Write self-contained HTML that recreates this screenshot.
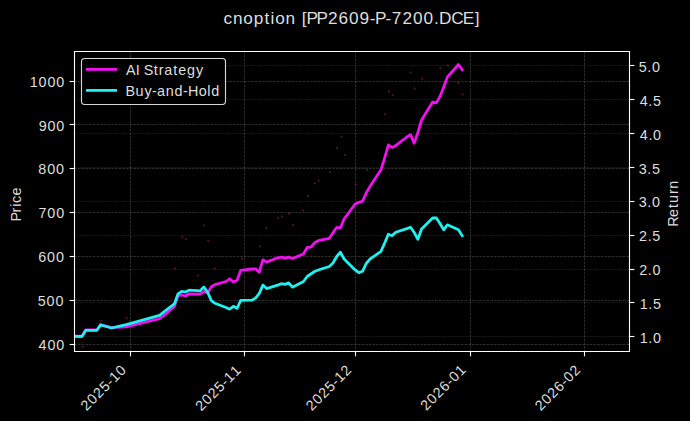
<!DOCTYPE html><html><head><meta charset="utf-8"><style>html,body{margin:0;padding:0;background:#000;width:690px;height:421px;overflow:hidden}svg{display:block}text{font-family:"Liberation Sans",sans-serif;fill:#dedede}</style></head><body>
<svg width="690" height="421" viewBox="0 0 690 421">
<rect width="690" height="421" fill="#000"/>
<line x1="74.5" y1="81.5" x2="629.5" y2="81.5" stroke="#ffffff" stroke-opacity="0.26" stroke-width="0.69" stroke-dasharray="2.57 1.11"/>
<line x1="74.5" y1="124.5" x2="629.5" y2="124.5" stroke="#ffffff" stroke-opacity="0.26" stroke-width="0.69" stroke-dasharray="2.57 1.11"/>
<line x1="74.5" y1="168.5" x2="629.5" y2="168.5" stroke="#ffffff" stroke-opacity="0.26" stroke-width="0.69" stroke-dasharray="2.57 1.11"/>
<line x1="74.5" y1="212.5" x2="629.5" y2="212.5" stroke="#ffffff" stroke-opacity="0.26" stroke-width="0.69" stroke-dasharray="2.57 1.11"/>
<line x1="74.5" y1="256.5" x2="629.5" y2="256.5" stroke="#ffffff" stroke-opacity="0.26" stroke-width="0.69" stroke-dasharray="2.57 1.11"/>
<line x1="74.5" y1="300.5" x2="629.5" y2="300.5" stroke="#ffffff" stroke-opacity="0.26" stroke-width="0.69" stroke-dasharray="2.57 1.11"/>
<line x1="74.5" y1="344.5" x2="629.5" y2="344.5" stroke="#ffffff" stroke-opacity="0.26" stroke-width="0.69" stroke-dasharray="2.57 1.11"/>
<line x1="130.5" y1="51.5" x2="130.5" y2="351.5" stroke="#ffffff" stroke-opacity="0.26" stroke-width="0.69" stroke-dasharray="2.57 1.11"/>
<line x1="244.5" y1="51.5" x2="244.5" y2="351.5" stroke="#ffffff" stroke-opacity="0.26" stroke-width="0.69" stroke-dasharray="2.57 1.11"/>
<line x1="355.5" y1="51.5" x2="355.5" y2="351.5" stroke="#ffffff" stroke-opacity="0.26" stroke-width="0.69" stroke-dasharray="2.57 1.11"/>
<line x1="470.5" y1="51.5" x2="470.5" y2="351.5" stroke="#ffffff" stroke-opacity="0.26" stroke-width="0.69" stroke-dasharray="2.57 1.11"/>
<line x1="584.5" y1="51.5" x2="584.5" y2="351.5" stroke="#ffffff" stroke-opacity="0.26" stroke-width="0.69" stroke-dasharray="2.57 1.11"/>
<line x1="74.5" y1="65.5" x2="629.5" y2="65.5" stroke="#ffffff" stroke-opacity="0.26" stroke-width="0.69" stroke-dasharray="0.69 1.15"/>
<line x1="74.5" y1="99.5" x2="629.5" y2="99.5" stroke="#ffffff" stroke-opacity="0.26" stroke-width="0.69" stroke-dasharray="0.69 1.15"/>
<line x1="74.5" y1="133.5" x2="629.5" y2="133.5" stroke="#ffffff" stroke-opacity="0.26" stroke-width="0.69" stroke-dasharray="0.69 1.15"/>
<line x1="74.5" y1="167.5" x2="629.5" y2="167.5" stroke="#ffffff" stroke-opacity="0.26" stroke-width="0.69" stroke-dasharray="0.69 1.15"/>
<line x1="74.5" y1="201.5" x2="629.5" y2="201.5" stroke="#ffffff" stroke-opacity="0.26" stroke-width="0.69" stroke-dasharray="0.69 1.15"/>
<line x1="74.5" y1="235.5" x2="629.5" y2="235.5" stroke="#ffffff" stroke-opacity="0.26" stroke-width="0.69" stroke-dasharray="0.69 1.15"/>
<line x1="74.5" y1="269.5" x2="629.5" y2="269.5" stroke="#ffffff" stroke-opacity="0.26" stroke-width="0.69" stroke-dasharray="0.69 1.15"/>
<line x1="74.5" y1="302.5" x2="629.5" y2="302.5" stroke="#ffffff" stroke-opacity="0.26" stroke-width="0.69" stroke-dasharray="0.69 1.15"/>
<line x1="74.5" y1="336.5" x2="629.5" y2="336.5" stroke="#ffffff" stroke-opacity="0.26" stroke-width="0.69" stroke-dasharray="0.69 1.15"/>
<circle cx="182.3" cy="237.1" r="1.0" fill="#5a1c24"/>
<circle cx="186" cy="239.1" r="1.0" fill="#5a1c24"/>
<circle cx="203.9" cy="225.4" r="1.0" fill="#5a1c24"/>
<circle cx="208.2" cy="240.7" r="1.0" fill="#5a1c24"/>
<circle cx="175.1" cy="268.5" r="1.0" fill="#5a1c24"/>
<circle cx="197.9" cy="275.6" r="1.0" fill="#5a1c24"/>
<circle cx="215" cy="268.5" r="1.0" fill="#5a1c24"/>
<circle cx="242" cy="258.5" r="1.0" fill="#5a1c24"/>
<circle cx="126.7" cy="318.3" r="1.0" fill="#5a1c24"/>
<circle cx="101" cy="321" r="1.0" fill="#5a1c24"/>
<circle cx="82.5" cy="346.8" r="1.0" fill="#5a1c24"/>
<circle cx="259.8" cy="246.4" r="1.0" fill="#5a1c24"/>
<circle cx="266.4" cy="228.1" r="1.0" fill="#5a1c24"/>
<circle cx="278.1" cy="218.1" r="1.0" fill="#5a1c24"/>
<circle cx="282.1" cy="216.5" r="1.0" fill="#5a1c24"/>
<circle cx="289" cy="213.8" r="1.0" fill="#5a1c24"/>
<circle cx="293" cy="224.8" r="1.0" fill="#5a1c24"/>
<circle cx="303" cy="210.5" r="1.0" fill="#5a1c24"/>
<circle cx="308" cy="195.8" r="1.0" fill="#5a1c24"/>
<circle cx="314.7" cy="183.2" r="1.0" fill="#5a1c24"/>
<circle cx="318.7" cy="180.5" r="1.0" fill="#5a1c24"/>
<circle cx="330" cy="172" r="1.0" fill="#5a1c24"/>
<circle cx="337.1" cy="148" r="1.0" fill="#5a1c24"/>
<circle cx="341.4" cy="136.6" r="1.0" fill="#5a1c24"/>
<circle cx="345.1" cy="155.1" r="1.0" fill="#5a1c24"/>
<circle cx="385" cy="114.3" r="1.0" fill="#5a1c24"/>
<circle cx="389" cy="91.5" r="1.0" fill="#5a1c24"/>
<circle cx="392.7" cy="95.2" r="1.0" fill="#5a1c24"/>
<circle cx="410.7" cy="72.4" r="1.0" fill="#5a1c24"/>
<circle cx="414.7" cy="88.6" r="1.0" fill="#5a1c24"/>
<circle cx="422.1" cy="78.7" r="1.0" fill="#5a1c24"/>
<circle cx="440.3" cy="68.1" r="1.0" fill="#5a1c24"/>
<circle cx="447.7" cy="65.3" r="1.0" fill="#5a1c24"/>
<circle cx="458.3" cy="83" r="1.0" fill="#5a1c24"/>
<circle cx="462.6" cy="94.4" r="1.0" fill="#5a1c24"/>
<circle cx="367" cy="170" r="1.0" fill="#5a1c24"/>
<circle cx="355.6" cy="184.2" r="1.0" fill="#5a1c24"/>
<clipPath id="ax"><rect x="74.5" y="51.5" width="555.0" height="300.0"/></clipPath>
<g clip-path="url(#ax)">
<path d="M74.71,336.1 L78.4,336.2 L82.09,336 L85.78,330 L96.85,330 L100.54,324.7 L104.23,325.7 L107.92,326.7 L111.61,327.7 L122.68,327 L126.37,326.8 L159.58,318.7 L163.27,316 L174.34,306.8 L178.03,295.5 L181.72,295 L185.41,296 L189.1,293.8 L200.17,294.2 L203.86,291.6 L207.55,293 L211.24,287 L214.93,284.6 L226,281.5 L229.69,278.8 L233.38,282 L237.07,280.3 L240.76,270.3 L251.83,269 L255.52,268.8 L259.21,272.3 L262.9,259.8 L266.59,262.1 L277.66,257.8 L281.35,257.1 L285.04,258.2 L288.73,257.1 L292.42,258.5 L303.49,254 L307.18,247.5 L310.87,247.1 L314.56,242.8 L318.25,240.7 L329.32,238.3 L333.01,232.8 L336.7,227.5 L340.39,228 L344.08,219 L355.15,204 L358.84,202.4 L362.53,201.3 L366.22,193 L369.91,186.6 L380.98,169.7 L384.67,158 L388.36,144.8 L392.05,147.5 L395.74,145.7 L406.81,137 L410.5,134.6 L414.19,143.2 L417.88,132.5 L421.57,120 L432.64,102 L436.33,102.8 L440.02,96.4 L443.71,87 L447.4,77 L458.47,64.5 L462.16,69.7" fill="none" stroke="#f010f0" stroke-opacity="1.0" stroke-width="2.78" stroke-linejoin="round" stroke-linecap="square"/>
<path d="M74.71,336.4 L78.4,336.5 L82.09,336.3 L85.78,330.3 L96.85,330.3 L100.54,325 L104.23,326 L107.92,327 L111.61,328 L122.68,325.3 L126.37,324.6 L159.58,315.3 L163.27,312.3 L174.34,303.9 L178.03,293.8 L181.72,291.4 L185.41,292 L189.1,290.2 L200.17,290.8 L203.86,287.1 L207.55,292 L211.24,300.5 L214.93,303.3 L226,307.5 L229.69,309.2 L233.38,306.3 L237.07,308.3 L240.76,300.3 L251.83,300.2 L255.52,298.1 L259.21,293.6 L262.9,285.1 L266.59,288.6 L277.66,285.1 L281.35,283.7 L285.04,284.4 L288.73,282.9 L292.42,287.2 L303.49,281.5 L307.18,276.5 L310.87,274 L314.56,271.5 L318.25,270 L329.32,266.5 L333.01,263 L336.7,256.5 L340.39,252.1 L344.08,259 L355.15,269.9 L358.84,272.7 L362.53,271.3 L366.22,263.5 L369.91,259.2 L380.98,251.4 L384.67,243 L388.36,234.3 L392.05,235.7 L395.74,232.2 L406.81,228.6 L410.5,227.2 L414.19,232.5 L417.88,239.3 L421.57,229 L432.64,218 L436.33,218 L440.02,223.5 L443.71,229.9 L447.4,224.8 L458.47,229.8 L462.16,235.7" fill="none" stroke="#20f0f0" stroke-opacity="1.0" stroke-width="2.78" stroke-linejoin="round" stroke-linecap="square"/>
</g>
<path d="M74.5,51.5 H629.5 V351.5 H74.5 Z" fill="none" stroke="#fff" stroke-width="1.11"/>
<line x1="69.64" y1="81.5" x2="74.5" y2="81.5" stroke="#fff" stroke-width="1.11"/>
<line x1="69.64" y1="124.5" x2="74.5" y2="124.5" stroke="#fff" stroke-width="1.11"/>
<line x1="69.64" y1="168.5" x2="74.5" y2="168.5" stroke="#fff" stroke-width="1.11"/>
<line x1="69.64" y1="212.5" x2="74.5" y2="212.5" stroke="#fff" stroke-width="1.11"/>
<line x1="69.64" y1="256.5" x2="74.5" y2="256.5" stroke="#fff" stroke-width="1.11"/>
<line x1="69.64" y1="300.5" x2="74.5" y2="300.5" stroke="#fff" stroke-width="1.11"/>
<line x1="69.64" y1="344.5" x2="74.5" y2="344.5" stroke="#fff" stroke-width="1.11"/>
<line x1="629.5" y1="65.5" x2="634.36" y2="65.5" stroke="#fff" stroke-width="1.11"/>
<line x1="629.5" y1="99.5" x2="634.36" y2="99.5" stroke="#fff" stroke-width="1.11"/>
<line x1="629.5" y1="133.5" x2="634.36" y2="133.5" stroke="#fff" stroke-width="1.11"/>
<line x1="629.5" y1="167.5" x2="634.36" y2="167.5" stroke="#fff" stroke-width="1.11"/>
<line x1="629.5" y1="201.5" x2="634.36" y2="201.5" stroke="#fff" stroke-width="1.11"/>
<line x1="629.5" y1="235.5" x2="634.36" y2="235.5" stroke="#fff" stroke-width="1.11"/>
<line x1="629.5" y1="269.5" x2="634.36" y2="269.5" stroke="#fff" stroke-width="1.11"/>
<line x1="629.5" y1="302.5" x2="634.36" y2="302.5" stroke="#fff" stroke-width="1.11"/>
<line x1="629.5" y1="336.5" x2="634.36" y2="336.5" stroke="#fff" stroke-width="1.11"/>
<line x1="130.5" y1="351.5" x2="130.5" y2="356.36" stroke="#fff" stroke-width="1.11"/>
<line x1="244.5" y1="351.5" x2="244.5" y2="356.36" stroke="#fff" stroke-width="1.11"/>
<line x1="355.5" y1="351.5" x2="355.5" y2="356.36" stroke="#fff" stroke-width="1.11"/>
<line x1="470.5" y1="351.5" x2="470.5" y2="356.36" stroke="#fff" stroke-width="1.11"/>
<line x1="584.5" y1="351.5" x2="584.5" y2="356.36" stroke="#fff" stroke-width="1.11"/>
<rect x="81.5" y="58.5" width="144.0" height="46.0" rx="3.2" fill="#000" fill-opacity="1.0" stroke="#d8d8d8" stroke-width="1.11"/>
<line x1="86" y1="69.4" x2="117" y2="69.4" stroke="#f010f0" stroke-opacity="1.0" stroke-width="2.78" stroke-linecap="butt"/>
<line x1="86" y1="90.4" x2="117" y2="90.4" stroke="#20f0f0" stroke-opacity="1.0" stroke-width="2.78" stroke-linecap="butt"/>
<text transform="translate(86.26,411.74) rotate(-45) scale(1.0000,1)" x="0.42 9.25 18.08 26.91 35.42 40.74 49.57" y="0" font-size="14.36">2025-10</text>
<text transform="translate(200.98,411.93) rotate(-45) scale(1.0000,1)" x="0.42 9.25 18.08 26.91 35.42 40.74 49.57" y="0" font-size="14.36">2025-11</text>
<text transform="translate(311.41,411.71) rotate(-45) scale(1.0000,1)" x="0.42 9.25 18.08 26.91 35.42 40.74 49.57" y="0" font-size="14.36">2025-12</text>
<text transform="translate(425.96,411.65) rotate(-45) scale(1.0000,1)" x="0.42 9.25 18.08 26.91 35.42 40.74 49.57" y="0" font-size="14.36">2026-01</text>
<text transform="translate(540.41,411.71) rotate(-45) scale(1.0000,1)" x="0.42 9.25 18.08 26.91 35.42 40.74 49.57" y="0" font-size="14.36">2026-02</text>
<text transform="translate(20.54,220.99) rotate(-90) scale(1.0000,1)" x="-0.6 8.58 14.15 17.9 25.58" y="0" font-size="14.36">Price</text>
<text transform="translate(38.18,350.17) scale(1.0000,1)" x="0.42 9.25 18.08" y="0" font-size="14.36">400</text>
<text transform="translate(37.35,306.26) scale(1.0000,1)" x="0.42 9.25 18.08" y="0" font-size="14.36">500</text>
<text transform="translate(37.85,262.17) scale(1.0000,1)" x="0.42 9.25 18.08" y="0" font-size="14.36">600</text>
<text transform="translate(38.06,218.17) scale(1.0000,1)" x="0.42 9.25 18.08" y="0" font-size="14.36">700</text>
<text transform="translate(37.88,174.17) scale(1.0000,1)" x="0.42 9.25 18.08" y="0" font-size="14.36">800</text>
<text transform="translate(38.22,131.17) scale(1.0000,1)" x="0.42 9.25 18.08" y="0" font-size="14.36">900</text>
<text transform="translate(29.36,87.08) scale(1.0000,1)" x="0.42 9.25 18.08 26.91" y="0" font-size="14.36">1000</text>
<text transform="translate(223.31,24.34) scale(1.0000,1)" x="0.27 9.63 19.98 30.35 41.27 47.32 51.84 62.2 72.5 78.39 83.3 93.32 104.58 115.16 125.73 136.31 146.51 151.66 162.16 168.54 179.11 189.69 200.27 210.59 215.81 228.02 239.55 251.39" y="0" font-size="17.23">cnoption [PP2609-P-7200.DCE]</text>
<text transform="translate(677.87,226.28) rotate(-90) scale(1.0000,1)" x="-0.36 9.29 18.28 23.4 32.25 37.65" y="0" font-size="14.36">Return</text>
<text transform="translate(639.31,342.79) scale(1.0000,1)" x="0.42 9.04 13.66" y="0" font-size="14.36">1.0</text>
<text transform="translate(639.22,308.68) scale(1.0000,1)" x="0.42 9.04 13.66" y="0" font-size="14.36">1.5</text>
<text transform="translate(638.72,274.78) scale(1.0000,1)" x="0.42 9.04 13.66" y="0" font-size="14.36">2.0</text>
<text transform="translate(638.62,241.17) scale(1.0000,1)" x="0.42 9.04 13.66" y="0" font-size="14.36">2.5</text>
<text transform="translate(638.26,207.37) scale(1.0000,1)" x="0.42 9.04 13.66" y="0" font-size="14.36">3.0</text>
<text transform="translate(638.24,173.53) scale(1.0000,1)" x="0.42 9.04 13.66" y="0" font-size="14.36">3.5</text>
<text transform="translate(639.41,139.71) scale(1.0000,1)" x="0.42 9.04 13.66" y="0" font-size="14.36">4.0</text>
<text transform="translate(639.27,106.06) scale(1.0000,1)" x="0.42 9.04 13.66" y="0" font-size="14.36">4.5</text>
<text transform="translate(638.28,72.16) scale(1.0000,1)" x="0.42 9.04 13.66" y="0" font-size="14.36">5.0</text>
<text transform="translate(126.14,75.40) scale(1.0000,1)" x="-0.04 9.54 13.8 17.61 27.53 32.71 38.21 47.18 52.17 60.84 69.75" y="0" font-size="14.36">AI Strategy</text>
<text transform="translate(125.59,96.17) scale(1.0000,1)" x="-0.03 9.93 18.83 26.39 31.54 40.19 48.99 57.5 62.43 73.08 81.65 85.58" y="0" font-size="14.36">Buy-and-Hold</text>
</svg></body></html>
